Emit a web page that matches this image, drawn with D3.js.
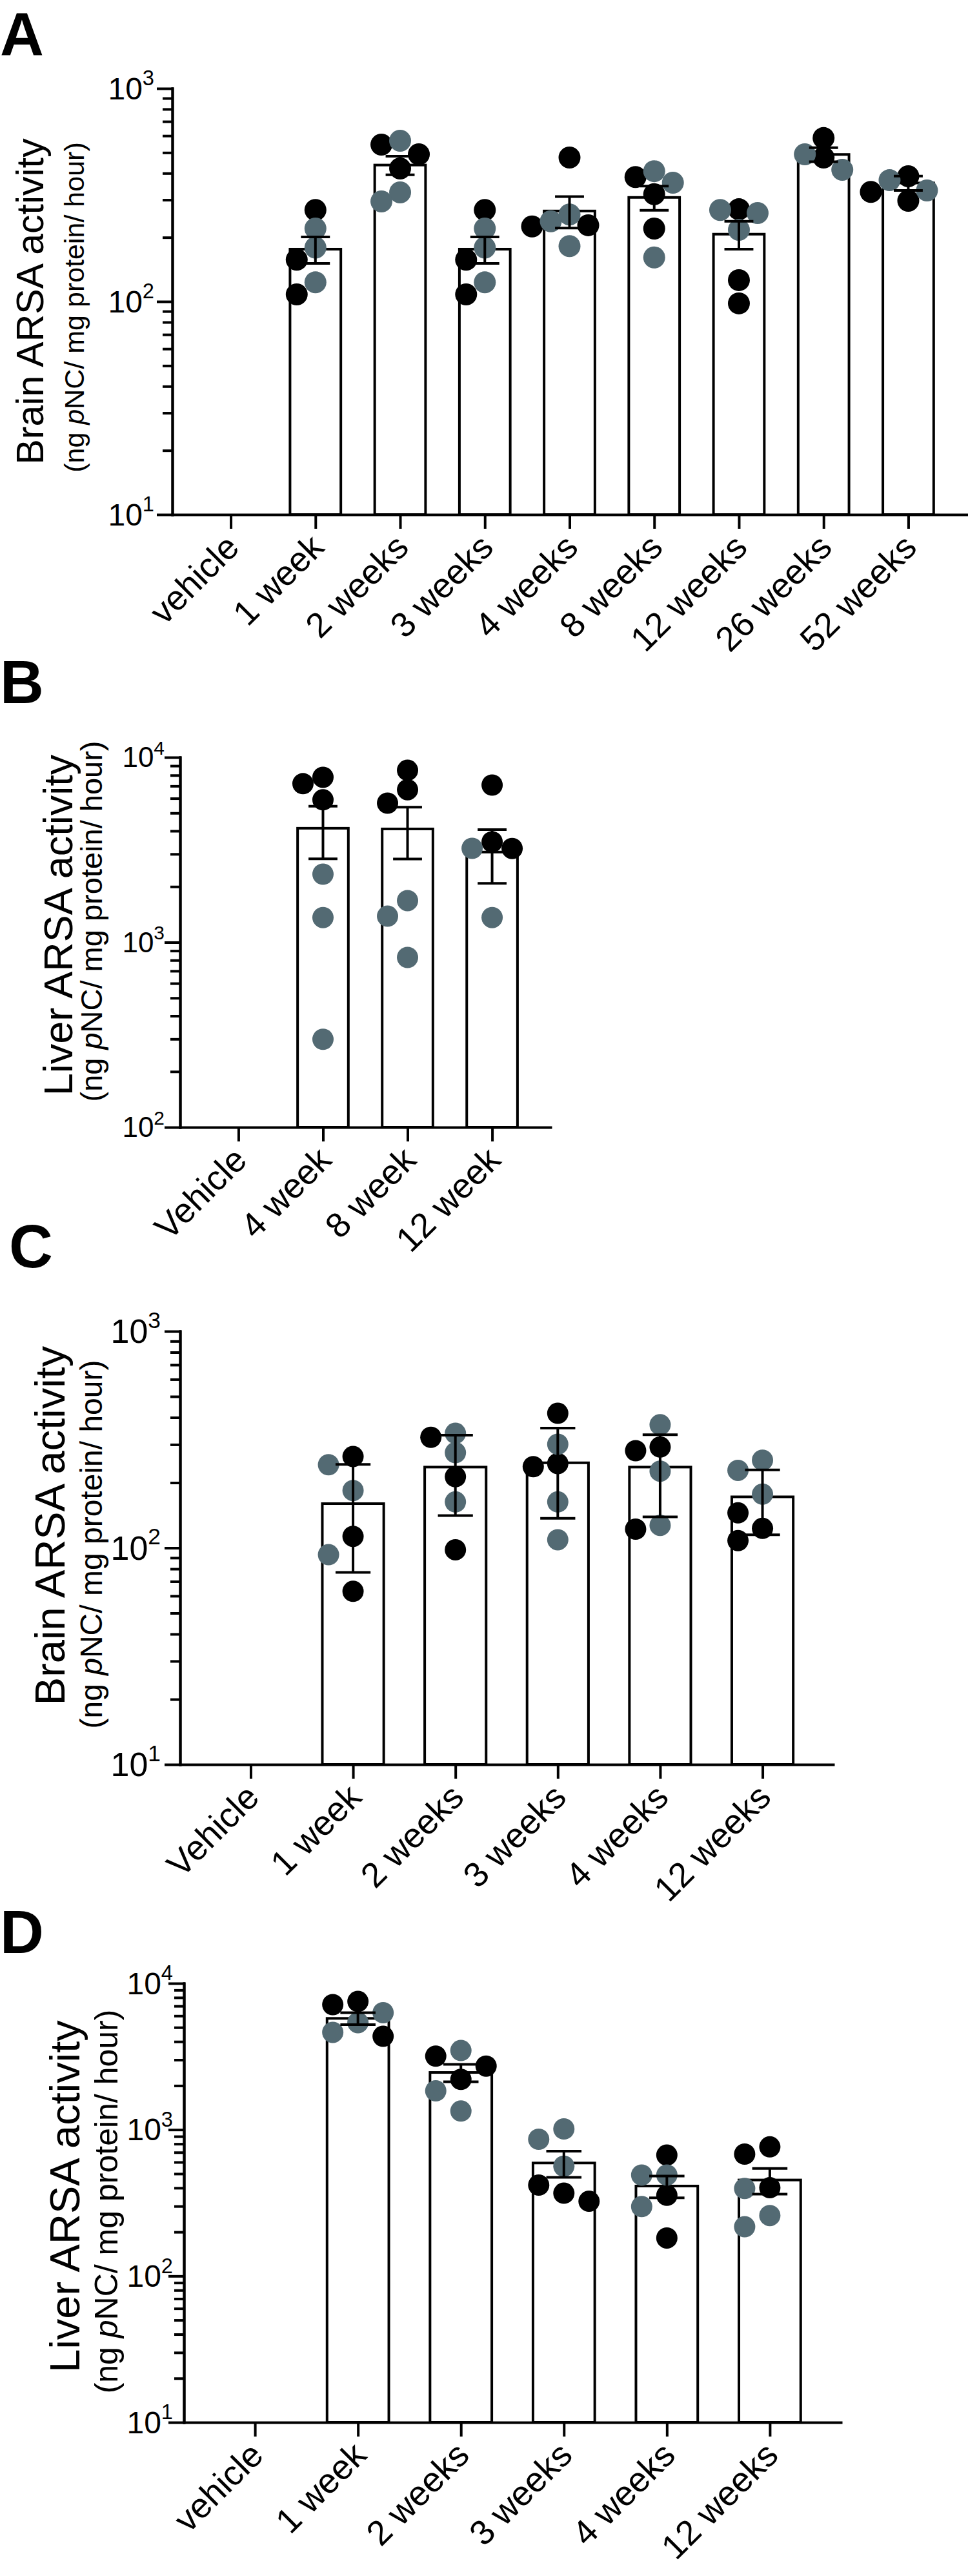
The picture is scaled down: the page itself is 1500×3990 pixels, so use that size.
<!DOCTYPE html>
<html lang="en">
<head>
<meta charset="UTF-8">
<title>ARSA activity</title>
<script src="https://cdn.jsdelivr.net/npm/d3@7"></script>
<style>
    body { margin: 0; background: #fff; }
    svg { display: block; font-family: "Liberation Sans", Arial, sans-serif; }
</style>
</head>
<body>
<svg id="fig"></svg>

<script>
    // ---------- data ----------
    // panel A : brain, mean +/- SEM
    const aCats = ["vehicle", "1 week", "2 weeks", "3 weeks", "4 weeks", "8 weeks", "12 weeks", "26 weeks", "52 weeks"];
    const aBlack = [[], [269, 157, 108], [545, 491, 421], [269, 157, 108], [474, 228, 225], [384, 319, 220], [271, 126, 98], [585, 474], [387, 297, 327]];
    const aGray = [[], [220, 179, 123], [568, 325, 295], [220, 179, 123], [256, 238, 182], [409, 361, 161], [269, 260, 217], [415, 491], [371, 332]];
    const aMean = [null, 176, 437, 176, 266, 308, 207, 490, 360];
    const aErr = [null, 25, 44, 25, 45, 40, 31, 37, 28];
    const aExp = [1, 2, 3];

    // panel B : liver, mean +/- SEM
    const bCats = ["Vehicle", "4 week", "8 week", "12 week"];
    const bBlack = [[], [7200, 7800, 5890], [8510, 6680, 5650], [7080, 3490, 3215]];
    const bGray = [[], [2335, 1361, 299], [1680, 1384, 828], [3220, 1361]];
    const bMean = [null, 4135, 4100, 3074];
    const bErr = [null, 1310, 1280, 990];
    const bExp = [2, 3, 4];

    // panel C : brain, mean +/- SD
    const cCats = ["Vehicle", "1 week", "2 weeks", "3 weeks", "4 weeks", "12 weeks"];
    const cBlack = [[], [264, 113, 63], [324, 213, 98], [418, 237, 245], [292, 281, 122], [145, 123, 108]];
    const cGray = [[], [242, 184, 93], [338, 275, 163], [301, 163, 109], [370, 226, 127], [254, 228, 177]];
    const cMean = [null, 160, 236, 247, 236, 172];
    const cErr = [null, 83, 95, 110, 97, 57];
    const cExp = [1, 2, 3];

    // panel D : liver, mean +/- SEM
    const dCats = ["vehicle", "1 week", "2 weeks", "3 weeks", "4 weeks", "12 weeks"];
    const dBlack = [[], [7520, 7150, 4345], [2720, 3180, 2205], [418, 368, 324], [670, 356, 182], [681, 763, 401]];
    const dGray = [[], [6300, 5385, 4625], [3475, 1842, 1340], [1012, 860, 563], [490, 490, 298], [396, 259, 217]];
    const dMean = [null, 5760, 2460, 592, 412, 453];
    const dErr = [null, 540, 335, 120, 70, 90];
    const dExp = [1, 2, 3, 4];

    const subLabel = ["(ng ", "p", "NC/ mg protein/ hour)"];
    const colBlack = "#000000", colGray = "#536a73";

    // ---------- layout ----------
    const W = 1500, H = 3990;
    const svg = d3.select("#fig").attr("width", W).attr("height", H);
    svg.append("rect").attr("width", W).attr("height", H).attr("fill", "#fff");

    const panels = [
        {letter: "A", lx: 0, ly: 86, cats: aCats, black: aBlack, gray: aGray, mean: aMean, err: aErr, exp: aExp,
            title: "Brain ARSA activity", x0: 267, x1: 1498, yTop: 137, yBot: 797,
            tFont: 59, tX: 67, tY: 467, sFont: 43, sX: 130, sY: 476, tickFont: 48, tickGap: 28, r: 17, dx: 29},
        {letter: "B", lx: 0, ly: 1089, cats: bCats, black: bBlack, gray: bGray, mean: bMean, err: bErr, exp: bExp,
            title: "Liver ARSA activity", x0: 279, x1: 853, yTop: 1173, yBot: 1746,
            tFont: 63, tX: 112, tY: 1433, sFont: 47, sX: 158, sY: 1427, tickFont: 44, tickGap: 24, r: 16.5, dx: 31},
        {letter: "C", lx: 14, ly: 1963, cats: cCats, black: cBlack, gray: cGray, mean: cMean, err: cErr, exp: cExp,
            title: "Brain ARSA activity", x0: 279, x1: 1291, yTop: 2062, yBot: 2733,
            tFont: 65, tX: 100, tY: 2363, sFont: 48, sX: 158, sY: 2392, tickFont: 52, tickGap: 30, r: 16.5, dx: 38},
        {letter: "D", lx: 0, ly: 3025, cats: dCats, black: dBlack, gray: dGray, mean: dMean, err: dErr, exp: dExp,
            title: "Liver ARSA activity", x0: 285, x1: 1303, yTop: 3072, yBot: 3752,
            tFont: 65, tX: 123, tY: 3402, sFont: 50, sX: 182, sY: 3410, tickFont: 48, tickGap: 17, r: 16.5, dx: 39}
    ];

    // spread points of one column sideways so they do not sit on each other
    function swarm(pts, r, step) {
        const placed = [];
        const minD = Math.min(1.8 * r, 0.97 * step);
        pts.sort((a, b) => a.py - b.py);
        pts.forEach(p => {
            const cands = [0, -step, step, -2 * step, 2 * step];
            p.off = 0;
            for (const o of cands) {
                if (placed.every(q => Math.hypot(q.off - o, q.py - p.py) >= minD)) { p.off = o; break; }
            }
            placed.push(p);
        });
        return pts;
    }

    panels.forEach(P => {
        const g = svg.append("g");

        const x = d3.scalePoint().domain(P.cats).range([P.x0, P.x1]).padding(0.69);
        const lo = Math.pow(10, d3.min(P.exp)), hi = Math.pow(10, d3.max(P.exp));
        const y = d3.scaleLog().domain([lo, hi]).range([P.yBot, P.yTop]);
        const bw = x.step() * 0.6;
        const capW = bw * 0.57;

        // panel letter
        g.append("text").attr("x", P.lx).attr("y", P.ly)
            .attr("font-size", 94).attr("font-weight", "bold").text(P.letter);

        // bars
        const rows = P.cats.map((c, i) => ({cat: c, mean: P.mean[i], err: P.err[i]})).filter(d => d.mean != null);
        g.selectAll(".bar").data(rows).enter().append("rect")
            .attr("class", "bar")
            .attr("x", d => x(d.cat) - bw / 2)
            .attr("y", d => y(d.mean))
            .attr("width", bw)
            .attr("height", d => P.yBot - y(d.mean))
            .attr("fill", "#fff").attr("stroke", "#000").attr("stroke-width", 4);

        // individual animals
        let pts = [];
        P.cats.forEach((c, i) => {
            let col = [];
            P.black[i].forEach(v => col.push({cat: c, v: v, fill: colBlack, k: 0}));
            P.gray[i].forEach(v => col.push({cat: c, v: v, fill: colGray, k: 1}));
            col.forEach(p => p.py = y(p.v));
            pts = pts.concat(swarm(col, P.r, P.dx));
        });
        pts.sort((a, b) => a.k - b.k);
        g.selectAll(".dot").data(pts).enter().append("circle")
            .attr("class", "dot")
            .attr("cx", d => x(d.cat) + d.off)
            .attr("cy", d => d.py)
            .attr("r", P.r)
            .attr("fill", d => d.fill);

        // error bars
        const eb = g.selectAll(".err").data(rows).enter().append("g").attr("class", "err")
            .attr("stroke", "#000").attr("stroke-width", 4);
        eb.append("line")
            .attr("x1", d => x(d.cat)).attr("x2", d => x(d.cat))
            .attr("y1", d => y(d.mean + d.err)).attr("y2", d => y(Math.max(d.mean - d.err, lo)));
        eb.append("line")
            .attr("x1", d => x(d.cat) - capW / 2).attr("x2", d => x(d.cat) + capW / 2)
            .attr("y1", d => y(d.mean + d.err)).attr("y2", d => y(d.mean + d.err));
        eb.append("line")
            .attr("x1", d => x(d.cat) - capW / 2).attr("x2", d => x(d.cat) + capW / 2)
            .attr("y1", d => y(d.mean - d.err)).attr("y2", d => y(d.mean - d.err));

        // y axis: minor then major ticks
        let minors = [];
        P.exp.slice(0, -1).forEach(e => d3.range(2, 10).forEach(m => minors.push(m * Math.pow(10, e))));
        const yAxis = g.append("g").attr("transform", "translate(" + P.x0 + ",0)");
        yAxis.append("g").call(d3.axisLeft(y).tickValues(minors).tickSize(13).tickSizeOuter(0).tickFormat(""));
        yAxis.append("g").call(d3.axisLeft(y).tickValues(P.exp.map(e => Math.pow(10, e))).tickSize(22).tickSizeOuter(0).tickFormat(""));
        yAxis.selectAll("path, line").attr("stroke", "#000").attr("stroke-width", 4).attr("stroke-linecap", "square");

        // y tick labels 10^n
        const yl = g.selectAll(".ylab").data(P.exp).enter().append("text")
            .attr("class", "ylab")
            .attr("x", P.x0 - P.tickGap)
            .attr("y", e => y(Math.pow(10, e)))
            .attr("dy", "0.35em")
            .attr("text-anchor", "end")
            .attr("font-size", P.tickFont);
        yl.append("tspan").text("10");
        yl.append("tspan").attr("dy", -0.45 * P.tickFont).attr("font-size", P.tickFont * 0.68).text(e => e);

        // x axis
        const xAxis = g.append("g").attr("transform", "translate(0," + P.yBot + ")")
            .call(d3.axisBottom(x).tickSize(22).tickSizeOuter(0).tickFormat(""));
        xAxis.selectAll("path, line").attr("stroke", "#000").attr("stroke-width", 4);
        xAxis.select("path").attr("stroke-linecap", "square");

        g.selectAll(".xlab").data(P.cats).enter().append("text")
            .attr("class", "xlab")
            .attr("transform", d => "translate(" + (x(d) + 16) + "," + (P.yBot + 54) + ") rotate(-45)")
            .attr("text-anchor", "end")
            .attr("font-size", 54)
            .text(d => d);

        // y titles
        g.append("text")
            .attr("transform", "translate(" + P.tX + "," + P.tY + ") rotate(-90)")
            .attr("text-anchor", "middle").attr("font-size", P.tFont)
            .text(P.title);
        const st = g.append("text")
            .attr("transform", "translate(" + P.sX + "," + P.sY + ") rotate(-90)")
            .attr("text-anchor", "middle").attr("font-size", P.sFont);
        st.append("tspan").text(subLabel[0]);
        st.append("tspan").attr("font-style", "italic").text(subLabel[1]);
        st.append("tspan").text(subLabel[2]);
    });
</script>
</body>
</html>
